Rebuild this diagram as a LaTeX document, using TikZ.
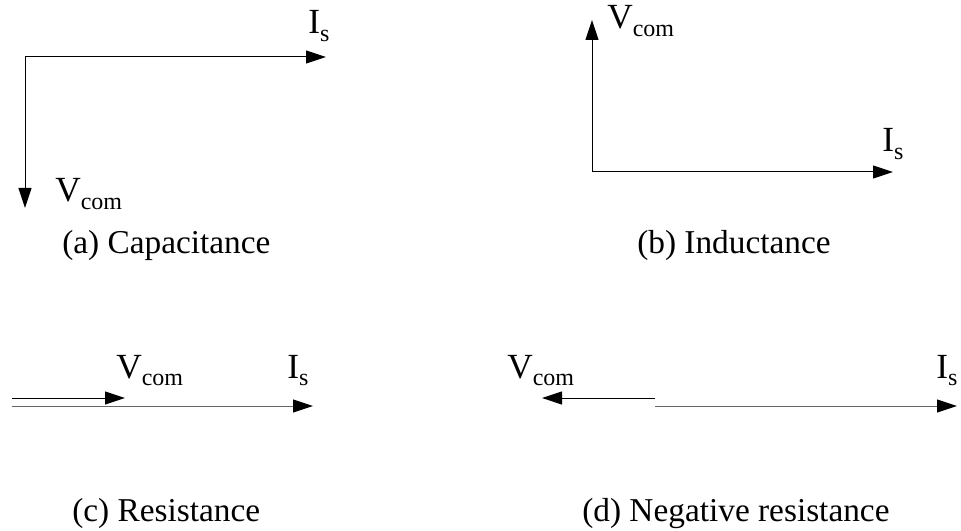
\documentclass[tikz,border=0pt]{standalone}
\usepackage{fontspec}
\setmainfont{Liberation Serif}
\usetikzlibrary{arrows.meta, math}
\newcommand{\lowsub}[1]{\raisebox{-5.5pt}{\fontsize{18}{18}\selectfont #1}}
\newcommand{\Vcom}{V\lowsub{com}}
\newcommand{\Isrc}{I\lowsub{s}}

\begin{document}
\begin{tikzpicture}[x=0.75pt, y=-0.75pt,
  phasor/.style={-{Triangle[length=15pt, width=9.75pt, color=black]}, line width=0.75pt},
  faint/.style={draw=black!60},
  lbl/.style={inner sep=0, anchor=base west, font=\fontsize{26.5}{26.5}\selectfont},
  caption/.style={inner sep=0, anchor=base west, font=\fontsize{25}{25}\selectfont},
]
\useasboundingbox (0,0) rectangle (961,531);

% (a) capacitance
\coordinate (Oa) at (25,57);
\coordinate (Ia) at (326,57);
\coordinate (Va) at (25,208);
\draw[phasor] (Oa) -- (Ia);
\draw[phasor] (Oa) -- (Va);
\node[lbl] (Isa) at (308,34) {\Isrc};
\node[lbl] (Vca) at (55,202) {\Vcom};
\node[caption] (capa) at (62,253) {(a) Capacitance};

% (b) inductance
\coordinate (Ob) at (592,172);
\coordinate (Ib) at (893,172);
\coordinate (Vb) at (592,20);
\draw[phasor] (Ob) -- (Ib);
\draw[phasor] (Ob) -- (Vb);
\node[lbl] (Vcb) at (607,29) {\Vcom};
\node[lbl] (Isb) at (882,152) {\Isrc};
\node[caption] (capb) at (637,253) {(b) Inductance};

% (c) resistance
\coordinate (Oc1) at (12,398);
\coordinate (Vc) at (125,398);
\coordinate (Oc2) at (12,406);
\coordinate (Ic) at (313,406);
\draw[phasor] (Oc1) -- (Vc);
\draw[phasor, faint] (Oc2) -- (Ic);
\node[lbl] (Vcc) at (116,378) {\Vcom};
\node[lbl] (Isc) at (287,378) {\Isrc};
\node[caption] (capc) at (72,521) {(c) Resistance};

% (d) negative resistance
\coordinate (Od1) at (655,398);
\coordinate (Vd) at (542,398);
\coordinate (Od2) at (655,406);
\coordinate (Id) at (957,406);
\draw[phasor] (Od1) -- (Vd);
\draw[phasor, faint] (Od2) -- (Id);
\node[lbl] (Vcd) at (507,378) {\Vcom};
\node[lbl] (Isd) at (936,378) {\Isrc};
\node[caption] (capd) at (582,521) {(d) Negative resistance};

\end{tikzpicture}
\end{document}
